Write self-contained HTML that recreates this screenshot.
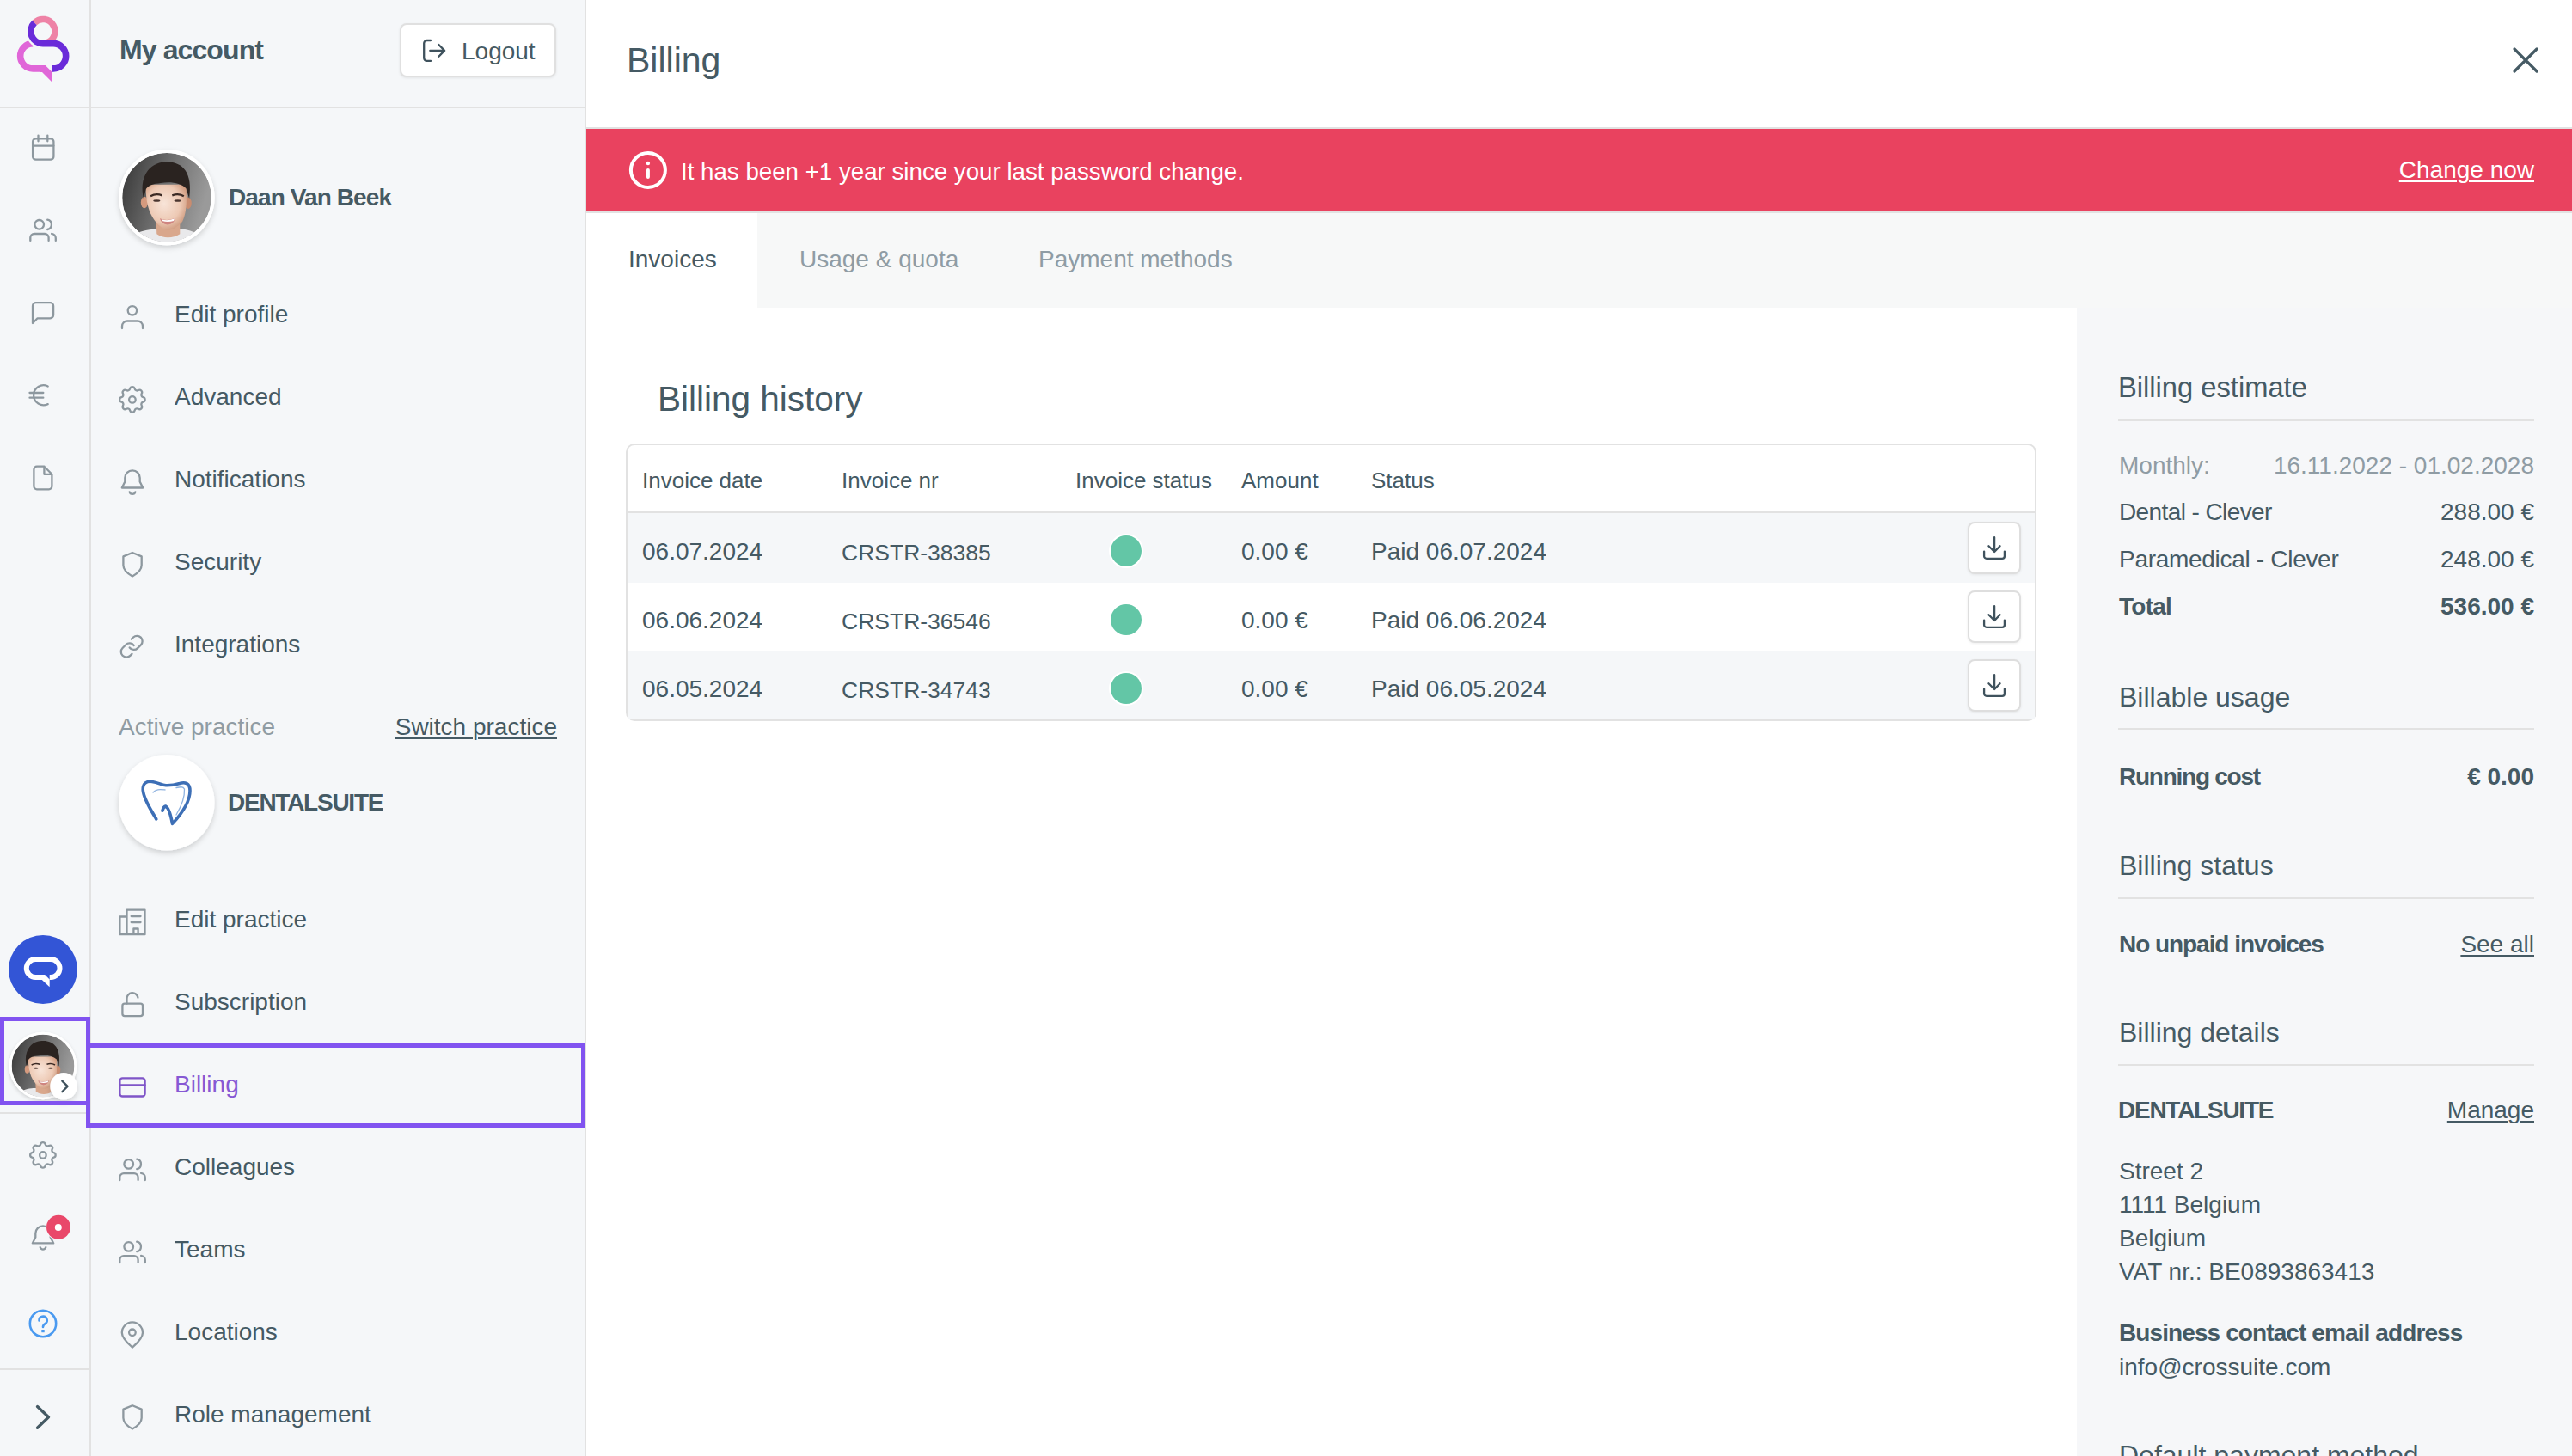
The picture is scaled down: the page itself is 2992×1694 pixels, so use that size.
<!DOCTYPE html>
<html><head><meta charset="utf-8">
<style>
*{box-sizing:border-box;margin:0;padding:0}
html,body{width:2992px;height:1694px;overflow:hidden;background:#fff;font-family:"Liberation Sans",sans-serif;color:#455a64}
.a{position:absolute}
.t{position:absolute;white-space:nowrap;line-height:1}
svg{position:absolute;overflow:visible}
</style></head><body>
<div class="a" style="left:0px;top:0px;width:105px;height:1694px;background:#f5f7f9"></div>
<div class="a" style="left:104px;top:0px;width:2px;height:1694px;background:#e2e2e2"></div>
<div class="a" style="left:106px;top:0px;width:575px;height:1694px;background:#f5f7f9"></div>
<div class="a" style="left:680px;top:0px;width:2px;height:1694px;background:#e2e2e2"></div>
<div class="a" style="left:0px;top:124px;width:680px;height:2px;background:#e2e2e2"></div>
<div class="a" style="left:0px;top:1294px;width:104px;height:2px;background:#e2e2e2"></div>
<div class="a" style="left:0px;top:1592px;width:104px;height:2px;background:#e2e2e2"></div>
<div class="a" style="left:682px;top:148px;width:2310px;height:2px;background:#e2e2e2"></div>
<div class="a" style="left:682px;top:150px;width:2310px;height:96px;background:#e9425f"></div>
<div class="a" style="left:682px;top:246px;width:2310px;height:112px;background:#f7f8f8"></div>
<div class="a" style="left:682px;top:246px;width:199px;height:112px;background:#fff"></div>
<div class="a" style="left:682px;top:246px;width:2310px;height:2px;background:#e2e2e2"></div>
<div class="a" style="left:2416px;top:358px;width:576px;height:1336px;background:#f6f7f9"></div>
<div class="t" style="top:42px;font-size:32px;font-weight:700;color:#455a64;left:139px;letter-spacing:-0.9px">My account</div>
<div class="a" style="left:465px;top:27px;width:182px;height:63px;background:#fff;border:2px solid #e0e0e0;border-radius:8px;box-shadow:0 1px 3px rgba(0,0,0,.08)"></div>
<div class="t" style="top:46px;font-size:28px;color:#455a64;left:537px;">Logout</div>
<div class="t" style="top:216px;font-size:28px;font-weight:700;color:#455a64;left:266px;letter-spacing:-0.9px">Daan Van Beek</div>
<div class="t" style="top:352px;font-size:28px;color:#455a64;left:203px;">Edit profile</div>
<div class="t" style="top:448px;font-size:28px;color:#455a64;left:203px;">Advanced</div>
<div class="t" style="top:544px;font-size:28px;color:#455a64;left:203px;">Notifications</div>
<div class="t" style="top:640px;font-size:28px;color:#455a64;left:203px;">Security</div>
<div class="t" style="top:736px;font-size:28px;color:#455a64;left:203px;">Integrations</div>
<div class="t" style="top:832px;font-size:28px;color:#8f9ca4;left:138px;">Active practice</div>
<div class="t" style="top:832px;font-size:28px;color:#455a64;right:2344px;text-decoration:underline;text-decoration-thickness:2px;text-underline-offset:3px">Switch practice</div>
<div class="t" style="top:920px;font-size:28px;font-weight:700;color:#455a64;left:265px;letter-spacing:-1.25px">DENTALSUITE</div>
<div class="t" style="top:1056px;font-size:28px;color:#455a64;left:203px;">Edit practice</div>
<div class="t" style="top:1152px;font-size:28px;color:#455a64;left:203px;">Subscription</div>
<div class="t" style="top:1248px;font-size:28px;color:#8659d4;left:203px;">Billing</div>
<div class="t" style="top:1344px;font-size:28px;color:#455a64;left:203px;">Colleagues</div>
<div class="t" style="top:1440px;font-size:28px;color:#455a64;left:203px;">Teams</div>
<div class="t" style="top:1536px;font-size:28px;color:#455a64;left:203px;">Locations</div>
<div class="t" style="top:1632px;font-size:28px;color:#455a64;left:203px;">Role management</div>
<div class="t" style="top:50px;font-size:41px;color:#455a64;left:729px;">Billing</div>
<div class="t" style="top:186px;font-size:27.7px;color:#fff;left:792px;">It has been +1 year since your last password change.</div>
<div class="t" style="top:184px;font-size:28px;color:#fff;right:44px;text-decoration:underline;text-decoration-thickness:2px;text-underline-offset:3px">Change now</div>
<div class="t" style="top:288px;font-size:28px;color:#455a64;left:731px;">Invoices</div>
<div class="t" style="top:288px;font-size:28px;color:#8f9ca4;left:930px;">Usage &amp; quota</div>
<div class="t" style="top:288px;font-size:28px;color:#8f9ca4;left:1208px;">Payment methods</div>
<div class="t" style="top:444px;font-size:40.5px;color:#455a64;left:765px;">Billing history</div>
<div class="a" style="left:728px;top:516px;width:1641px;height:323px;border:2px solid #e2e2e2;border-radius:10px;overflow:hidden;background:#fff"></div>
<div class="a" style="left:730px;top:595px;width:1637px;height:2px;background:#e2e2e2"></div>
<div class="a" style="left:730px;top:597px;width:1637px;height:81px;background:#f5f7f9"></div>
<div class="a" style="left:730px;top:757px;width:1637px;height:80px;background:#f5f7f9"></div>
<div class="t" style="top:546px;font-size:26px;color:#455a64;left:747px;">Invoice date</div>
<div class="t" style="top:546px;font-size:26px;color:#455a64;left:979px;">Invoice nr</div>
<div class="t" style="top:546px;font-size:26px;color:#455a64;left:1251px;">Invoice status</div>
<div class="t" style="top:546px;font-size:26px;color:#455a64;left:1444px;">Amount</div>
<div class="t" style="top:546px;font-size:26px;color:#455a64;left:1595px;">Status</div>
<div class="t" style="top:628px;font-size:28px;color:#455a64;left:747px;">06.07.2024</div>
<div class="t" style="top:630px;font-size:26px;color:#455a64;left:979px;font-size:26.5px">CRSTR-38385</div>
<div class="t" style="top:628px;font-size:28px;color:#455a64;left:1444px;">0.00 €</div>
<div class="t" style="top:628px;font-size:28px;color:#455a64;left:1595px;">Paid 06.07.2024</div>
<div class="a" style="left:1292px;top:623px;width:36px;height:36px;background:#63c6a6;border-radius:50%;box-shadow:0 0 0 2px #fff"></div>
<div class="a" style="left:2289px;top:607px;width:62px;height:61px;background:#fff;border:2px solid #dedede;border-radius:8px;box-shadow:0 1px 3px rgba(0,0,0,.07)"></div>
<div class="t" style="top:708px;font-size:28px;color:#455a64;left:747px;">06.06.2024</div>
<div class="t" style="top:710px;font-size:26px;color:#455a64;left:979px;font-size:26.5px">CRSTR-36546</div>
<div class="t" style="top:708px;font-size:28px;color:#455a64;left:1444px;">0.00 €</div>
<div class="t" style="top:708px;font-size:28px;color:#455a64;left:1595px;">Paid 06.06.2024</div>
<div class="a" style="left:1292px;top:703px;width:36px;height:36px;background:#63c6a6;border-radius:50%;box-shadow:0 0 0 2px #fff"></div>
<div class="a" style="left:2289px;top:687px;width:62px;height:61px;background:#fff;border:2px solid #dedede;border-radius:8px;box-shadow:0 1px 3px rgba(0,0,0,.07)"></div>
<div class="t" style="top:788px;font-size:28px;color:#455a64;left:747px;">06.05.2024</div>
<div class="t" style="top:790px;font-size:26px;color:#455a64;left:979px;font-size:26.5px">CRSTR-34743</div>
<div class="t" style="top:788px;font-size:28px;color:#455a64;left:1444px;">0.00 €</div>
<div class="t" style="top:788px;font-size:28px;color:#455a64;left:1595px;">Paid 06.05.2024</div>
<div class="a" style="left:1292px;top:783px;width:36px;height:36px;background:#63c6a6;border-radius:50%;box-shadow:0 0 0 2px #fff"></div>
<div class="a" style="left:2289px;top:767px;width:62px;height:61px;background:#fff;border:2px solid #dedede;border-radius:8px;box-shadow:0 1px 3px rgba(0,0,0,.07)"></div>
<div class="t" style="top:435px;font-size:32.7px;color:#455a64;left:2464px;">Billing estimate</div>
<div class="a" style="left:2464px;top:488px;width:484px;height:2px;background:#e2e2e2"></div>
<div class="t" style="top:528px;font-size:28px;color:#8f9ca4;left:2465px;">Monthly:</div>
<div class="t" style="top:528px;font-size:28px;color:#8f9ca4;right:44px;">16.11.2022 - 01.02.2028</div>
<div class="t" style="top:582px;font-size:28px;color:#455a64;left:2465px;letter-spacing:-0.6px">Dental - Clever</div>
<div class="t" style="top:582px;font-size:28px;color:#455a64;right:44px;">288.00 €</div>
<div class="t" style="top:637px;font-size:28px;color:#455a64;left:2465px;letter-spacing:-0.3px">Paramedical - Clever</div>
<div class="t" style="top:637px;font-size:28px;color:#455a64;right:44px;">248.00 €</div>
<div class="t" style="top:692px;font-size:28px;font-weight:700;color:#455a64;left:2465px;letter-spacing:-0.75px">Total</div>
<div class="t" style="top:692px;font-size:28px;font-weight:700;color:#455a64;right:44px;">536.00 €</div>
<div class="t" style="top:795px;font-size:32px;color:#455a64;left:2465px;">Billable usage</div>
<div class="a" style="left:2464px;top:847px;width:484px;height:2px;background:#e2e2e2"></div>
<div class="t" style="top:890px;font-size:28px;font-weight:700;color:#455a64;left:2465px;letter-spacing:-1.25px">Running cost</div>
<div class="t" style="top:890px;font-size:28px;font-weight:700;color:#455a64;right:44px;">€ 0.00</div>
<div class="t" style="top:991px;font-size:32px;color:#455a64;left:2465px;">Billing status</div>
<div class="a" style="left:2464px;top:1044px;width:484px;height:2px;background:#e2e2e2"></div>
<div class="t" style="top:1085px;font-size:28px;font-weight:700;color:#455a64;left:2465px;letter-spacing:-1.05px">No unpaid invoices</div>
<div class="t" style="top:1085px;font-size:28px;color:#455a64;right:44px;text-decoration:underline;text-decoration-thickness:2px;text-underline-offset:3px">See all</div>
<div class="t" style="top:1185px;font-size:32px;color:#455a64;left:2465px;">Billing details</div>
<div class="a" style="left:2464px;top:1238px;width:484px;height:2px;background:#e2e2e2"></div>
<div class="t" style="top:1278px;font-size:28px;font-weight:700;color:#455a64;left:2464px;letter-spacing:-1.25px">DENTALSUITE</div>
<div class="t" style="top:1278px;font-size:28px;color:#455a64;right:44px;text-decoration:underline;text-decoration-thickness:2px;text-underline-offset:3px">Manage</div>
<div class="t" style="top:1349px;font-size:28px;color:#455a64;left:2465px;">Street 2</div>
<div class="t" style="top:1388px;font-size:28px;color:#455a64;left:2465px;">1111 Belgium</div>
<div class="t" style="top:1427px;font-size:28px;color:#455a64;left:2465px;">Belgium</div>
<div class="t" style="top:1466px;font-size:28px;color:#455a64;left:2465px;">VAT nr.: BE0893863413</div>
<div class="t" style="top:1537px;font-size:28px;font-weight:700;color:#455a64;left:2465px;letter-spacing:-0.9px">Business contact email address</div>
<div class="t" style="top:1577px;font-size:28px;color:#455a64;left:2465px;">info@crossuite.com</div>
<div class="t" style="top:1677px;font-size:32px;color:#455a64;left:2465px;">Default payment method</div>
<svg width="2992" height="1694" style="left:0;top:0;position:absolute"><defs><linearGradient id="bgG" x1="0" y1="0" x2="1" y2="0.3"><stop offset="0" stop-color="#343434"/><stop offset="0.55" stop-color="#707070"/><stop offset="1" stop-color="#9a9a9a"/></linearGradient><radialGradient id="faceG" cx="0.45" cy="0.42" r="0.62"><stop offset="0" stop-color="#f8e4d8"/><stop offset="0.65" stop-color="#edc9b4"/><stop offset="1" stop-color="#cf9a7e"/></radialGradient><clipPath id="avc"><circle cx="0" cy="0" r="51.8"/></clipPath><filter id="sh" x="-20%" y="-20%" width="140%" height="150%"><feDropShadow dx="0" dy="3" stdDeviation="3" flood-color="#000" flood-opacity="0.16"/></filter></defs><g fill="none" stroke-width="7.6"><path d="M38.3 50.6 A14.65 14.65 0 0 0 38.3 79.9 H50" stroke="#e066d8"/><path d="M40.1 26.5 A14 14 0 0 0 50 50.6" stroke="#f5f7f9" stroke-width="12"/><path d="M40.1 26.5 A14 14 0 1 1 53.5 50" stroke="#ee82a6"/><path d="M40.1 26.5 A14 14 0 0 0 50 50.6 H62 A14.65 14.65 0 0 1 62 79.9 H61" stroke="#6a2bd9"/></g>
<polygon points="46,76.1 52.7,76.1 61,84.3 61,96 49,83.9 46,83.9" fill="#e066d8"/>
<g fill="none" stroke="#8d989f" stroke-width="2.3" stroke-linecap="round" stroke-linejoin="round"><rect x="38.1" y="161.3" width="24.3" height="24.4" rx="3.5"/><path d="M38.1 169.6 H62.4 M44.5 157.6 V164.3 M55.3 157.6 V164.3"/></g>
<g fill="none" stroke="#8d989f" stroke-width="2.3" stroke-linecap="round" stroke-linejoin="round"><circle cx="45.699999999999996" cy="261.3" r="5.3"/><path d="M35.3 279.90000000000003 V276.6 A4.6 4.6 0 0 1 39.9 272.0 H52.0 A4.6 4.6 0 0 1 56.599999999999994 276.6 V279.90000000000003"/><path d="M55.199999999999996 255.60000000000002 A5.8 5.8 0 0 1 55.199999999999996 267.0"/><path d="M60.099999999999994 271.8 A5.2 5.2 0 0 1 64.8 277.0 V279.90000000000003"/></g>
<g fill="none" stroke="#8d989f" stroke-width="2.3" stroke-linecap="round" stroke-linejoin="round"><path d="M38 376 V356 A3.8 3.8 0 0 1 41.8 352.2 H58.3 A3.8 3.8 0 0 1 62.1 356 V366.5 A3.8 3.8 0 0 1 58.3 370.3 H43.6 Z"/></g>
<g fill="none" stroke="#8d989f" stroke-width="2.3" stroke-linecap="round" stroke-linejoin="round"><path d="M55.7 449.5 A11.5 11.5 0 1 0 55.7 470.1"/><path d="M34.5 457 H50.3 M34.5 462.7 H50.3"/></g>
<g fill="none" stroke="#8d989f" stroke-width="2.3" stroke-linecap="round" stroke-linejoin="round"><path d="M51.4 542.7 H42.9 A3.5 3.5 0 0 0 39.4 546.2 V565.8 A3.5 3.5 0 0 0 42.9 569.3 H56.9 A3.5 3.5 0 0 0 60.4 565.8 V551.8 Z M51.4 542.7 V551.8 H60.4"/></g>
<circle cx="50" cy="1128" r="40" fill="#3355d6"/>
<path d="M57.7 1137 H59 A10.5 10.5 0 0 0 59 1116 H41.3 A10.5 10.5 0 0 0 41.3 1137 H50" fill="none" stroke="#fff" stroke-width="6"/>
<polygon points="48.2,1134 52.2,1134 57.7,1139.5 57.7,1148.3 48.8,1140.1" fill="#fff"/>
<g transform="translate(30.22,1324.22) scale(1.64)" fill="none" stroke="#8d989f" stroke-width="1.402" stroke-linecap="round" stroke-linejoin="round"><path d="M10.325 4.317c.426 -1.756 2.924 -1.756 3.35 0a1.724 1.724 0 0 0 2.573 1.066c1.543 -.94 3.31 .826 2.37 2.37a1.724 1.724 0 0 0 1.065 2.572c1.756 .426 1.756 2.924 0 3.35a1.724 1.724 0 0 0 -1.066 2.573c.94 1.543 -.826 3.31 -2.37 2.37a1.724 1.724 0 0 0 -2.572 1.065c-.426 1.756 -2.924 1.756 -3.35 0a1.724 1.724 0 0 0 -2.573 -1.066c-1.543 .94 -3.31 -.826 -2.37 -2.37a1.724 1.724 0 0 0 -1.065 -2.572c-1.756 -.426 -1.756 -2.924 0 -3.35a1.724 1.724 0 0 0 1.066 -2.573c-.94 -1.543 .826 -3.31 2.37 -2.37c1 .608 2.296 .07 2.572 -1.065z"/><circle cx="12" cy="12" r="2.3"/></g>
<g fill="none" stroke="#8d989f" stroke-width="2.3" stroke-linecap="round" stroke-linejoin="round"><path d="M37.8 1446.4 L41.3 1439.4 V1435 A8.7 8.7 0 0 1 58.7 1435 V1439.4 L62.2 1446.4 Z"/><path d="M46.7 1451.2 A3.5 3.5 0 0 0 53.3 1451.2"/></g>
<circle cx="68" cy="1427.8" r="14.9" fill="#f5f7f9"/><circle cx="68" cy="1427.8" r="14" fill="#e9486a"/><circle cx="67.8" cy="1427.9" r="4" fill="#fff"/>
<g fill="none" stroke="#4a9af0" stroke-width="2.6" stroke-linecap="round" stroke-linejoin="round"><circle cx="50" cy="1540" r="15.2"/><path d="M45.5 1536.5 A4.6 4.6 0 1 1 52.5 1540.2 C50.8 1541.2 50 1542 50 1544"/></g><rect x="48.3" y="1547" width="3.4" height="3.2" fill="#4a9af0"/>
<path d="M43.5 1636.6 L56.5 1648.8 L43.5 1661.3" fill="none" stroke="#455a64" stroke-width="3.4" stroke-linecap="round" stroke-linejoin="round"/>
<g fill="none" stroke="#3f525d" stroke-width="2.3" stroke-linecap="round" stroke-linejoin="round"><path d="M501 47 H496.5 A3.3 3.3 0 0 0 493.2 50.3 V67.6 A3.3 3.3 0 0 0 496.5 70.9 H501"/><path d="M500.3 58.9 H517 M510.4 52 L517.1 58.9 L510.4 65.8"/></g>
<g fill="none" stroke="#8d989f" stroke-width="2.3" stroke-linecap="round" stroke-linejoin="round"><circle cx="153.9" cy="361.3" r="5.2"/><path d="M142 382 V379.5 A6 6 0 0 1 148 373.5 H160 A6 6 0 0 1 166 379.5 V382"/></g>
<g transform="translate(134.22,445.22) scale(1.64)" fill="none" stroke="#8d989f" stroke-width="1.402" stroke-linecap="round" stroke-linejoin="round"><path d="M10.325 4.317c.426 -1.756 2.924 -1.756 3.35 0a1.724 1.724 0 0 0 2.573 1.066c1.543 -.94 3.31 .826 2.37 2.37a1.724 1.724 0 0 0 1.065 2.572c1.756 .426 1.756 2.924 0 3.35a1.724 1.724 0 0 0 -1.066 2.573c.94 1.543 -.826 3.31 -2.37 2.37a1.724 1.724 0 0 0 -2.572 1.065c-.426 1.756 -2.924 1.756 -3.35 0a1.724 1.724 0 0 0 -2.573 -1.066c-1.543 .94 -3.31 -.826 -2.37 -2.37a1.724 1.724 0 0 0 -1.065 -2.572c-1.756 -.426 -1.756 -2.924 0 -3.35a1.724 1.724 0 0 0 1.066 -2.573c-.94 -1.543 .826 -3.31 2.37 -2.37c1 .608 2.296 .07 2.572 -1.065z"/><circle cx="12" cy="12" r="2.3"/></g>
<g fill="none" stroke="#8d989f" stroke-width="2.3" stroke-linecap="round" stroke-linejoin="round"><path d="M141.8 567.5 L145.3 560.5 V556 A8.7 8.7 0 0 1 162.7 556 V560.5 L166.2 567.5 Z"/><path d="M150.6 572.3 A3.5 3.5 0 0 0 157.4 572.3"/></g>
<g fill="none" stroke="#8d989f" stroke-width="2.3" stroke-linecap="round" stroke-linejoin="round"><path d="M154 643 L143.4 647.4 V657.5 C143.4 662 147 666.5 154 670.4 C161 666.5 164.7 662 164.7 657.5 V647.4 Z"/></g>
<g transform="translate(138.2,737.2) scale(1.25)" fill="none" stroke="#8d989f" stroke-width="1.84" stroke-linecap="round" stroke-linejoin="round"><path d="M10 13a5 5 0 0 0 7.54.54l3-3a5 5 0 0 0-7.07-7.07l-1.72 1.71"/><path d="M14 11a5 5 0 0 0-7.54-.54l-3 3a5 5 0 0 0 7.07 7.07l1.71-1.71"/></g>
<g fill="none" stroke="#8d989f" stroke-width="2.3" stroke-linecap="round" stroke-linejoin="round"><path d="M139.4 1087.2 H168.5 V1058.6 H147.5 V1087.2 M147.5 1066.5 H139.4 V1087.2 M152.7 1066 H163.5 M152.7 1073 H163.5 M155.4 1087.2 V1080.5 H160.6 V1087.2"/></g>
<g fill="none" stroke="#8d989f" stroke-width="2.3" stroke-linecap="round" stroke-linejoin="round"><rect x="142.4" y="1167.7" width="23.6" height="14.4" rx="2.6"/><path d="M147.5 1167.7 V1162 A6.5 6.5 0 0 1 160.4 1160.6"/></g>
<g fill="none" stroke="#7f55c8" stroke-width="2.3" stroke-linecap="round" stroke-linejoin="round"><rect x="139.4" y="1254.4" width="29.2" height="21.1" rx="3"/><path d="M139.4 1262.3 H168.6"/></g>
<g fill="none" stroke="#8d989f" stroke-width="2.3" stroke-linecap="round" stroke-linejoin="round"><circle cx="149.70000000000002" cy="1354.4" r="5.3"/><path d="M139.3 1373.0 V1369.7 A4.6 4.6 0 0 1 143.9 1365.1000000000001 H156.0 A4.6 4.6 0 0 1 160.60000000000002 1369.7 V1373.0"/><path d="M159.20000000000002 1348.7 A5.8 5.8 0 0 1 159.20000000000002 1360.1000000000001"/><path d="M164.10000000000002 1364.9 A5.2 5.2 0 0 1 168.8 1370.1000000000001 V1373.0"/></g>
<g fill="none" stroke="#8d989f" stroke-width="2.3" stroke-linecap="round" stroke-linejoin="round"><circle cx="149.70000000000002" cy="1450.4" r="5.3"/><path d="M139.3 1469.0 V1465.7 A4.6 4.6 0 0 1 143.9 1461.1000000000001 H156.0 A4.6 4.6 0 0 1 160.60000000000002 1465.7 V1469.0"/><path d="M159.20000000000002 1444.7 A5.8 5.8 0 0 1 159.20000000000002 1456.1000000000001"/><path d="M164.10000000000002 1460.9 A5.2 5.2 0 0 1 168.8 1466.1000000000001 V1469.0"/></g>
<g fill="none" stroke="#8d989f" stroke-width="2.3" stroke-linecap="round" stroke-linejoin="round"><path d="M154 1567.6 C150 1564 141.8 1557.5 141.8 1550.5 A12.1 12.1 0 0 1 166 1550.5 C166 1557.5 158 1564 154 1567.6 Z"/><circle cx="153.9" cy="1550.3" r="3.8"/></g>
<g fill="none" stroke="#8d989f" stroke-width="2.3" stroke-linecap="round" stroke-linejoin="round"><path d="M154 1635.2 L143.4 1639.6000000000001 V1649.7 C143.4 1654.2 147 1658.7 154 1662.6000000000001 C161 1658.7 164.7 1654.2 164.7 1649.7 V1639.6000000000001 Z"/></g>
<g fill="none" stroke="#fff" stroke-width="4" stroke-linecap="round"><circle cx="753.9" cy="198" r="20"/><path d="M753.9 198 V206"/></g><circle cx="753.9" cy="190" r="2.2" fill="#fff"/>
<path d="M2925 57 L2951 83 M2951 57 L2925 83" fill="none" stroke="#455a64" stroke-width="3.2" stroke-linecap="round"/>
<g fill="none" stroke="#3f525d" stroke-width="2.3" stroke-linecap="round" stroke-linejoin="round"><path d="M2320.1 625.2 V641.8 M2313.4 635.3 L2320.1 642 L2326.6 635.3"/><path d="M2308.1 641.6 V647 A2.8 2.8 0 0 0 2310.9 649.8 H2329.1 A2.8 2.8 0 0 0 2331.9 647 V641.6"/></g>
<g fill="none" stroke="#3f525d" stroke-width="2.3" stroke-linecap="round" stroke-linejoin="round"><path d="M2320.1 705.2 V721.8 M2313.4 715.3 L2320.1 722 L2326.6 715.3"/><path d="M2308.1 721.6 V727 A2.8 2.8 0 0 0 2310.9 729.8 H2329.1 A2.8 2.8 0 0 0 2331.9 727 V721.6"/></g>
<g fill="none" stroke="#3f525d" stroke-width="2.3" stroke-linecap="round" stroke-linejoin="round"><path d="M2320.1 785.2 V801.8 M2313.4 795.3 L2320.1 802 L2326.6 795.3"/><path d="M2308.1 801.6 V807 A2.8 2.8 0 0 0 2310.9 809.8 H2329.1 A2.8 2.8 0 0 0 2331.9 807 V801.6"/></g><g transform="translate(194,229.7) scale(1.0)"><circle r="55.6" fill="#fff" filter="url(#sh)"/><g clip-path="url(#avc)"><rect x="-52" y="-52" width="104" height="104" fill="url(#bgG)"/><path d="M-48 53 C-42 42 -28 38 -16 37 L20 37 C32 39 44 45 50 53 Z" fill="#e9e9eb"/><g transform="translate(0,3) scale(0.9)"><path d="M-14 18 L-13 44 C-5 50 8 50 17 44 L17 18 Z" fill="#d9a78c"/><ellipse cx="-29" cy="3" rx="4.5" ry="7.5" fill="#d59a7e"/><ellipse cx="27.5" cy="4" rx="4.5" ry="7.5" fill="#c98c70"/><path d="M-27 -20 C-28 8 -20 28 -3 38 C4 40 10 38 20 28 C26 16 26 0 25 -20 Z" fill="url(#faceG)"/><path d="M-30 -2 C-36 -28 -24 -48 -2 -49 C20 -50 34 -36 29 -2 L25 -15 C18 -22 6 -24 -8 -22 C-18 -21 -24 -19 -27 -14 Z" fill="#2a2320"/><path d="M-21 -5 Q-14 -9 -6 -6 M7 -6 Q15 -9 22 -5" stroke="#3b2a24" stroke-width="2.6" fill="none"/><ellipse cx="-13" cy="1" rx="4.5" ry="1.4" fill="#4a3630"/><ellipse cx="14" cy="1" rx="4.5" ry="1.4" fill="#4a3630"/><path d="M-9 24 Q1 28 11 23 Q10 31 1 32 Q-7 31 -9 24 Z" fill="#cf8580"/><path d="M-7 25 Q1 28 10 24 L9 27 Q1 29 -6 27 Z" fill="#fff"/></g></g><circle r="53.7" fill="none" stroke="#fff" stroke-width="3.8"/></g><circle cx="193.8" cy="933.8" r="55.8" fill="#fff" filter="url(#sh)"/><path d="M181.8 953 C176 943 167 930 166.2 919 C165.8 911 171 908.5 177 909.5 C184 910.5 188 913.5 193 913.8 C199 914 204 913 209 911.5 C215 909.5 221 911 221 920 C221 932 212 946 200.5 958.4 C199 950 197 940 192.5 938 C190.5 938.5 189.5 941 188.9 943.2" fill="none" stroke="#3d6fb6" stroke-width="3.6" stroke-linecap="round" stroke-linejoin="round"/><path d="M178 922 C181 918 186 918.5 192 919 M205 916.5 C210 915.5 213 915 214.5 918 C215 928 211 938 205 948" fill="none" stroke="#8fb3e0" stroke-width="1.3" stroke-linecap="round"/><g transform="translate(50,1240) scale(0.705)"><circle r="55.6" fill="#fff" filter="url(#sh)"/><g clip-path="url(#avc)"><rect x="-52" y="-52" width="104" height="104" fill="url(#bgG)"/><path d="M-48 53 C-42 42 -28 38 -16 37 L20 37 C32 39 44 45 50 53 Z" fill="#e9e9eb"/><g transform="translate(0,3) scale(0.9)"><path d="M-14 18 L-13 44 C-5 50 8 50 17 44 L17 18 Z" fill="#d9a78c"/><ellipse cx="-29" cy="3" rx="4.5" ry="7.5" fill="#d59a7e"/><ellipse cx="27.5" cy="4" rx="4.5" ry="7.5" fill="#c98c70"/><path d="M-27 -20 C-28 8 -20 28 -3 38 C4 40 10 38 20 28 C26 16 26 0 25 -20 Z" fill="url(#faceG)"/><path d="M-30 -2 C-36 -28 -24 -48 -2 -49 C20 -50 34 -36 29 -2 L25 -15 C18 -22 6 -24 -8 -22 C-18 -21 -24 -19 -27 -14 Z" fill="#2a2320"/><path d="M-21 -5 Q-14 -9 -6 -6 M7 -6 Q15 -9 22 -5" stroke="#3b2a24" stroke-width="2.6" fill="none"/><ellipse cx="-13" cy="1" rx="4.5" ry="1.4" fill="#4a3630"/><ellipse cx="14" cy="1" rx="4.5" ry="1.4" fill="#4a3630"/><path d="M-9 24 Q1 28 11 23 Q10 31 1 32 Q-7 31 -9 24 Z" fill="#cf8580"/><path d="M-7 25 Q1 28 10 24 L9 27 Q1 29 -6 27 Z" fill="#fff"/></g></g><circle r="53.7" fill="none" stroke="#fff" stroke-width="3.8"/></g><circle cx="74" cy="1263.8" r="15.8" fill="#fff" filter="url(#sh)"/><path d="M72.3 1257.6 L78.6 1263.9 L72.3 1270.2" fill="none" stroke="#3f525d" stroke-width="2.3" stroke-linecap="round" stroke-linejoin="round"/></svg>
<div class="a" style="left:0;top:1183px;width:105px;height:103px;border:5px solid #8153f0"></div>
<div class="a" style="left:100px;top:1214px;width:581px;height:98px;border:5px solid #8153f0"></div>
</body></html>
